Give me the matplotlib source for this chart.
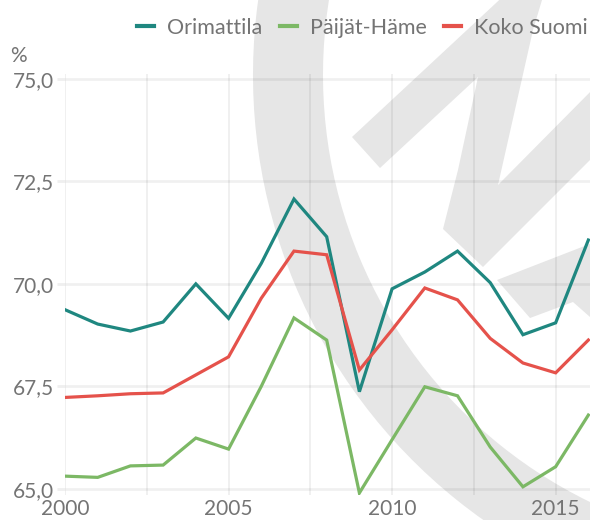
import matplotlib
matplotlib.use("Agg")
import matplotlib.pyplot as plt
from matplotlib.patches import Wedge, Polygon
from matplotlib.ticker import FuncFormatter, MultipleLocator

years = list(range(2000, 2017))
orimattila = [69.37, 69.02, 68.85, 69.07, 70.00, 69.16, 70.50, 72.07, 71.15,
              67.37, 69.88, 70.29, 70.80, 70.03, 68.76, 69.05, 71.07]
paijat_hame = [65.31, 65.28, 65.56, 65.58, 66.24, 65.97, 67.50, 69.17, 68.63,
               64.90, 66.20, 67.49, 67.27, 66.02, 65.05, 65.54, 66.80]
koko_suomi = [67.23, 67.27, 67.32, 67.34, 67.78, 68.22, 69.65, 70.80, 70.71,
              67.90, 68.88, 69.90, 69.61, 68.67, 68.07, 67.83, 68.63]
series_names = ["Orimattila", "Päijät-Häme", "Koko Suomi"]
colors = ["#1f8780", "#7cb865", "#e5524b"]

plt.rcParams['font.family'] = ['Lato', 'DejaVu Sans']
TXT = "#747474"

fig = plt.figure(figsize=(5.9, 5.2), dpi=100)

# background watermark (decorative), in pixel coordinates
bg = fig.add_axes([0, 0, 1, 1], zorder=0)
bg.set_xlim(0, 590)
bg.set_ylim(520, 0)
bg.axis("off")
wm = "#e6e6e6"
bg.add_patch(Wedge((798, 75), 545, 100, 215, width=70, facecolor=wm, edgecolor="none"))
bg.add_patch(Polygon([(352, 137), (510, -10), (545, -10), (533, 30), (498, 185),
                      (600, 82), (600, 150), (483, 267), (443, 229), (458, 170),
                      (478, 77), (380, 168)], closed=True, facecolor=wm, edgecolor="none"))
bg.add_patch(Polygon([(497, 280), (600, 240), (600, 322), (590, 317), (573, 302),
                      (530, 318)], closed=True, facecolor=wm, edgecolor="none"))

ax = fig.add_axes([65 / 590, 25 / 520, 525 / 590, 421 / 520], zorder=1)
ax.patch.set_alpha(0)
for s in ax.spines.values():
    s.set_visible(False)

for vals, name, c in zip([orimattila, paijat_hame, koko_suomi], series_names, colors):
    ax.plot(years, vals, color=c, lw=2.3, label=name, solid_joinstyle="miter", zorder=3)

ax.set_xlim(2000, 2016.05)
ax.set_ylim(64.85, 75.12)
ax.xaxis.set_major_locator(MultipleLocator(5))
ax.xaxis.set_minor_locator(MultipleLocator(2.5))
ax.yaxis.set_major_locator(MultipleLocator(2.5))
ax.yaxis.set_major_formatter(FuncFormatter(lambda v, p: f"{v:.1f}".replace(".", ",")))
ax.xaxis.set_major_formatter(FuncFormatter(lambda v, p: f"{int(v)}"))
ax.grid(True, which="both", axis="x", color="black", alpha=0.07, lw=1.2)
ax.grid(True, which="major", axis="y", color="black", alpha=0.06, lw=2)
ax.tick_params(axis="x", which="both", length=0, pad=3, labelsize=15, labelcolor=TXT)
ax.tick_params(axis="y", length=6, width=2, color="#efefef", pad=2, labelsize=15,
               labelcolor=TXT)

fig.text(10 / 590, 1 - 66 / 520, "%", fontsize=15, color=TXT, ha="left", va="bottom")

leg = fig.legend(loc="center right", bbox_to_anchor=(588 / 590, 1 - 28 / 520), ncol=3,
                 frameon=False, fontsize=15.5, handlelength=0.8, handletextpad=0.6,
                 columnspacing=0.8, borderaxespad=0, borderpad=0)
for t in leg.get_texts():
    t.set_color(TXT)
for h in leg.get_lines():
    h.set_linewidth(3)

fig.savefig("out.png", dpi=100)
